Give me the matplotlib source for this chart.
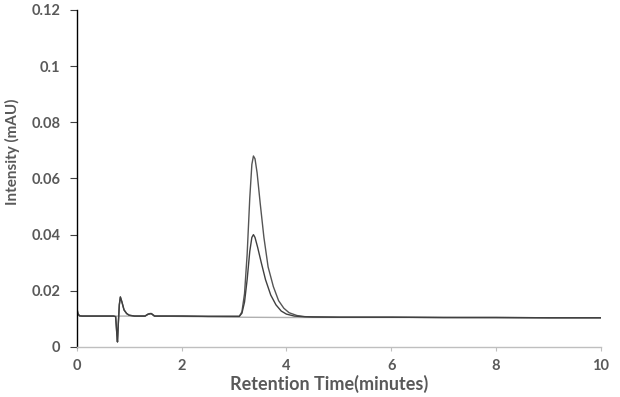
import matplotlib.pyplot as plt
import numpy as np

plt.rcParams["font.family"] = ["Lato", "DejaVu Sans"]

# baseline shared by all injections (before the analyte peak)
t_pre = [0, 0.02, 0.05, 0.1, 0.5, 0.7, 0.74, 0.765, 0.775, 0.79, 0.81, 0.83,
         0.86, 0.9, 0.95, 1.0, 1.1, 1.3, 1.36, 1.42, 1.48, 2.0, 2.5, 3.0, 3.1]
y_pre = [0.0139, 0.0118, 0.0111, 0.011, 0.011, 0.011, 0.0108, 0.0040, 0.0018,
         0.0080, 0.0150, 0.0178, 0.0160, 0.0132, 0.0119, 0.0113, 0.011, 0.011,
         0.0117, 0.0119, 0.011, 0.011, 0.0109, 0.0109, 0.0109]

# baseline after the peak
t_post = [4.5, 5, 6, 7, 8, 9, 10]
y_post = [0.0107, 0.0106, 0.0106, 0.0105, 0.0105, 0.0104, 0.0104]

# high concentration peak
t_hi = [3.15, 3.2, 3.25, 3.3, 3.34, 3.37, 3.4, 3.44, 3.5, 3.57, 3.65, 3.75,
        3.85, 3.95, 4.05, 4.2, 4.35]
y_hi = [0.0125, 0.0190, 0.0330, 0.0530, 0.0650, 0.0680, 0.0670, 0.0620, 0.0510,
        0.0390, 0.0285, 0.0215, 0.0165, 0.0138, 0.0122, 0.0112, 0.0108]

# low concentration peak
t_lo = [3.15, 3.2, 3.25, 3.3, 3.34, 3.37, 3.4, 3.45, 3.52, 3.6, 3.7, 3.8,
        3.9, 4.0, 4.15, 4.3]
y_lo = [0.0120, 0.0160, 0.0240, 0.0340, 0.0390, 0.0400, 0.0390, 0.0355, 0.0300,
        0.0240, 0.0185, 0.0150, 0.0128, 0.0117, 0.0110, 0.0108]

# blank injection
t_blank = [0, 0.05, 1.3, 1.4, 1.5, 3.0, 4.0, 6, 8, 10]
y_blank = [0.0125, 0.0110, 0.0110, 0.0120, 0.0110, 0.0106, 0.0105, 0.0105, 0.0104, 0.0104]

fig = plt.figure(figsize=(6.2, 3.97), dpi=100)
ax = fig.add_axes([0.124, 0.126, 0.845, 0.849])

ax.plot(t_blank, y_blank, color="#b0b0b0", lw=1.0)
ax.plot(t_pre + t_hi + t_post, y_pre + y_hi + y_post, color="#555555", lw=1.0)
ax.plot(t_pre + t_lo + t_post, y_pre + y_lo + y_post, color="#404040", lw=1.0)

ax.set_xlim(0, 10)
ax.set_ylim(0, 0.12)
ax.set_xticks([0, 2, 4, 6, 8, 10])
ax.set_yticks([0, 0.02, 0.04, 0.06, 0.08, 0.1, 0.12])
ax.set_yticklabels(["0", "0.02", "0.04", "0.06", "0.08", "0.1", "0.12"])

txt = "#595959"
ax.tick_params(axis="both", labelsize=10.5, labelcolor=txt)
for lab in ax.get_xticklabels() + ax.get_yticklabels():
    lab.set_fontweight("bold")
ax.tick_params(axis="x", length=3, color="#bfbfbf", pad=6)
ax.tick_params(axis="y", length=5, color="#404040", pad=7)

ax.spines["top"].set_visible(False)
ax.spines["right"].set_visible(False)
ax.spines["left"].set_color("black")
ax.spines["left"].set_linewidth(1)
ax.spines["bottom"].set_color("#bfbfbf")
ax.spines["bottom"].set_linewidth(1)

ax.set_xlabel("Retention Time(minutes)", fontsize=13, fontweight="bold", color=txt)
ax.set_ylabel("Intensity (mAU)", fontsize=11, fontweight="bold", color=txt)
ax.xaxis.set_label_coords(0.481, -0.084)
ax.yaxis.set_label_coords(-0.108, 0.579)

fig.savefig("out.png", dpi=100)
